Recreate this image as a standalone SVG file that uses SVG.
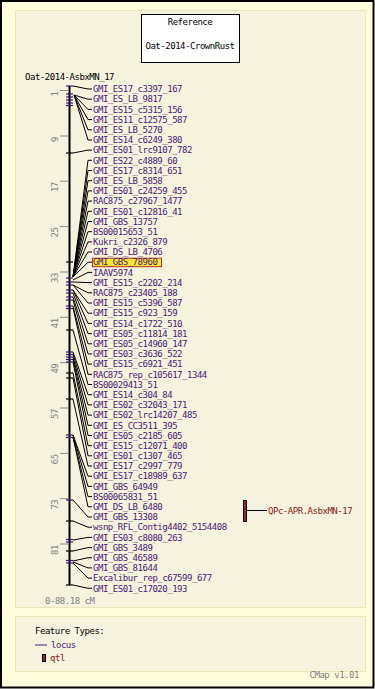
<svg xmlns="http://www.w3.org/2000/svg" width="375" height="689" viewBox="0 0 375 689">
<style>
text{font-family:"DejaVu Sans Mono","Liberation Mono",monospace;font-size:9px;letter-spacing:-0.47px}
.lbl{fill:#4a1a78}
.blk{fill:#000}
.gry{fill:#808080}
.qtxt{fill:#8b2020}
.con path{fill:none;stroke:#000;stroke-width:1}
.pt{stroke:#3c1470;stroke-width:1.2}
.bt{stroke:#000;stroke-width:1.2}
.st{stroke:#888;stroke-width:1}
</style>
<rect x="1" y="1" width="372.5" height="686.5" fill="#fffcdc" stroke="#000" stroke-width="2"/>
<rect x="15.5" y="10.5" width="350" height="597" fill="#f5f3dd" stroke="#ece6b4"/>
<rect x="15.5" y="616.5" width="350" height="55" fill="#f5f3dd" stroke="#ece6b4"/>
<g id="reference">
<rect x="141.5" y="14.5" width="98" height="48" fill="#fff" stroke="#000"/>
<text class="blk" x="190" y="25.3" text-anchor="middle">Reference</text>
<text class="blk" x="190" y="49" text-anchor="middle">Oat-2014-CrownRust</text>
</g>
<g id="map">
<text class="blk" x="25" y="80">Oat-2014-AsbxMN_17</text>
<line x1="69.5" y1="86" x2="69.5" y2="585" stroke="#000" stroke-width="2"/>
<g class="scale">
<line class="st" x1="60" y1="90.5" x2="69" y2="90.5"/>
<line class="st" x1="60" y1="136" x2="69" y2="136"/>
<line class="st" x1="60" y1="181.2" x2="69" y2="181.2"/>
<line class="st" x1="60" y1="226.6" x2="69" y2="226.6"/>
<line class="st" x1="60" y1="272" x2="69" y2="272"/>
<line class="st" x1="60" y1="317.3" x2="69" y2="317.3"/>
<line class="st" x1="60" y1="362.7" x2="69" y2="362.7"/>
<line class="st" x1="60" y1="408" x2="69" y2="408"/>
<line class="st" x1="60" y1="453.4" x2="69" y2="453.4"/>
<line class="st" x1="60" y1="498.7" x2="69" y2="498.7"/>
<line class="st" x1="60" y1="544" x2="69" y2="544"/>
<text class="gry" text-anchor="end" transform="translate(58,91.5) rotate(-90)">1</text>
<text class="gry" text-anchor="end" transform="translate(58,137) rotate(-90)">9</text>
<text class="gry" text-anchor="end" transform="translate(58,182.2) rotate(-90)">17</text>
<text class="gry" text-anchor="end" transform="translate(58,227.6) rotate(-90)">25</text>
<text class="gry" text-anchor="end" transform="translate(58,273) rotate(-90)">33</text>
<text class="gry" text-anchor="end" transform="translate(58,318.3) rotate(-90)">41</text>
<text class="gry" text-anchor="end" transform="translate(58,363.7) rotate(-90)">49</text>
<text class="gry" text-anchor="end" transform="translate(58,409) rotate(-90)">57</text>
<text class="gry" text-anchor="end" transform="translate(58,454.4) rotate(-90)">65</text>
<text class="gry" text-anchor="end" transform="translate(58,499.7) rotate(-90)">73</text>
<text class="gry" text-anchor="end" transform="translate(58,545) rotate(-90)">81</text>
</g>
<g class="ticks">
<line class="pt" x1="66" y1="86" x2="73" y2="86"/>
<line class="pt" x1="66" y1="94" x2="73" y2="94"/>
<line class="pt" x1="66" y1="97" x2="73" y2="97"/>
<line class="pt" x1="66" y1="100" x2="73" y2="100"/>
<line class="pt" x1="66" y1="103" x2="73" y2="103"/>
<line class="pt" x1="66" y1="105.5" x2="73" y2="105.5"/>
<line class="bt" x1="66" y1="153" x2="73" y2="153"/>
<line class="bt" x1="66" y1="262" x2="73" y2="262"/>
<line class="pt" x1="66" y1="278" x2="73" y2="278"/>
<line class="pt" x1="66" y1="282" x2="73" y2="282"/>
<line class="pt" x1="66" y1="285" x2="73" y2="285"/>
<line class="pt" x1="66" y1="290" x2="73" y2="290"/>
<line class="pt" x1="66" y1="293" x2="73" y2="293"/>
<line class="pt" x1="66" y1="297" x2="73" y2="297"/>
<line class="pt" x1="66" y1="300" x2="73" y2="300"/>
<line class="pt" x1="66" y1="306" x2="73" y2="306"/>
<line class="pt" x1="66" y1="308.5" x2="73" y2="308.5"/>
<line class="bt" x1="66" y1="330" x2="73" y2="330"/>
<line class="pt" x1="66" y1="352" x2="73" y2="352"/>
<line class="pt" x1="66" y1="354.5" x2="73" y2="354.5"/>
<line class="pt" x1="66" y1="357" x2="73" y2="357"/>
<line class="pt" x1="66" y1="359.5" x2="73" y2="359.5"/>
<line class="pt" x1="66" y1="362" x2="73" y2="362"/>
<line class="bt" x1="66" y1="373" x2="73" y2="373"/>
<line class="bt" x1="66" y1="378" x2="73" y2="378"/>
<line class="bt" x1="66" y1="399" x2="73" y2="399"/>
<line class="pt" x1="66" y1="435" x2="73" y2="435"/>
<line class="pt" x1="66" y1="437.5" x2="73" y2="437.5"/>
<line class="pt" x1="66" y1="500" x2="73" y2="500"/>
<line class="bt" x1="66" y1="521" x2="73" y2="521"/>
<line class="pt" x1="66" y1="539.5" x2="73" y2="539.5"/>
<line class="pt" x1="66" y1="542" x2="73" y2="542"/>
<line class="bt" x1="66" y1="551" x2="73" y2="551"/>
<line class="pt" x1="66" y1="560.5" x2="73" y2="560.5"/>
<line class="pt" x1="66" y1="563" x2="73" y2="563"/>
<line class="bt" x1="66" y1="585" x2="73" y2="585"/>
</g>
<text class="gry" x="45" y="604">0-88.18 cM</text>
</g>
<g id="connectors" class="con">
<path d="M73,86 L88,89 L92,89"/>
<path d="M74,95 L88,99.2 L92,99.2"/>
<path d="M74,95 L88,109.4 L92,109.4"/>
<path d="M74,95 L88,119.6 L92,119.6"/>
<path d="M74,95 L88,129.8 L92,129.8"/>
<path d="M74,95 L88,140 L92,140"/>
<path d="M73,153 L88,150.1 L92,150.1"/>
<path d="M73,277 L88,160.3 L92,160.3"/>
<path d="M73,277 L88,170.5 L92,170.5"/>
<path d="M73,277 L88,180.7 L92,180.7"/>
<path d="M73,277 L88,190.9 L92,190.9"/>
<path d="M73,277 L88,201.1 L92,201.1"/>
<path d="M73,277 L88,211.3 L92,211.3"/>
<path d="M73,277 L88,221.5 L92,221.5"/>
<path d="M73,277 L88,231.7 L92,231.7"/>
<path d="M73,277 L88,241.9 L92,241.9"/>
<path d="M73,277 L88,252 L92,252"/>
<path d="M73,277 L88,262.2 L92,262.2"/>
<path d="M73,280 L88,272.4 L92,272.4"/>
<path d="M73,282 L88,282.6 L92,282.6"/>
<path d="M73,285 L88,292.8 L92,292.8"/>
<path d="M73,285 L88,303 L92,303"/>
<path d="M73,290 L88,313.2 L92,313.2"/>
<path d="M73,290 L88,323.4 L92,323.4"/>
<path d="M73,293 L88,333.6 L92,333.6"/>
<path d="M73,297 L88,343.8 L92,343.8"/>
<path d="M73,300 L88,353.9 L92,353.9"/>
<path d="M73,306 L88,364.1 L92,364.1"/>
<path d="M73,308 L88,374.3 L92,374.3"/>
<path d="M73,330 L88,384.5 L92,384.5"/>
<path d="M73,352 L88,394.7 L92,394.7"/>
<path d="M73,354 L88,404.9 L92,404.9"/>
<path d="M73,357 L88,415.1 L92,415.1"/>
<path d="M73,359 L88,425.3 L92,425.3"/>
<path d="M73,362 L88,435.5 L92,435.5"/>
<path d="M73,373 L88,445.7 L92,445.7"/>
<path d="M73,378 L88,455.8 L92,455.8"/>
<path d="M73,399 L88,466 L92,466"/>
<path d="M73,435 L88,476.2 L92,476.2"/>
<path d="M73,435 L88,486.4 L92,486.4"/>
<path d="M73,437 L88,496.6 L92,496.6"/>
<path d="M73,437 L88,506.8 L92,506.8"/>
<path d="M73,500 L88,517 L92,517"/>
<path d="M73,521 L88,527.2 L92,527.2"/>
<path d="M73,540 L88,537.4 L92,537.4"/>
<path d="M73,551 L88,547.6 L92,547.6"/>
<path d="M73,561 L88,557.7 L92,557.7"/>
<path d="M73,562 L88,567.9 L92,567.9"/>
<path d="M73,563 L88,578.1 L92,578.1"/>
<path d="M73,585 L88,588.3 L92,588.3"/>
<path d="M247,510.5 L267,510.5"/>
</g>
<g id="labels">
<g id="n1"><text class="lbl" x="93" y="92.2">GMI_ES17_c3397_167</text></g>
<g id="n2"><text class="lbl" x="93" y="102.4">GMI_ES_LB_9817</text></g>
<g id="n3"><text class="lbl" x="93" y="112.6">GMI_ES15_c5315_156</text></g>
<g id="n4"><text class="lbl" x="93" y="122.8">GMI_ES11_c12575_587</text></g>
<g id="n5"><text class="lbl" x="93" y="133">GMI_ES_LB_5270</text></g>
<g id="n6"><text class="lbl" x="93" y="143.2">GMI_ES14_c6249_380</text></g>
<g id="n7"><text class="lbl" x="93" y="153.3">GMI_ES01_lrc9107_782</text></g>
<g id="n8"><text class="lbl" x="93" y="163.5">GMI_ES22_c4889_60</text></g>
<g id="n9"><text class="lbl" x="93" y="173.7">GMI_ES17_c8314_651</text></g>
<g id="n10"><text class="lbl" x="93" y="183.9">GMI_ES_LB_5858</text></g>
<g id="n11"><text class="lbl" x="93" y="194.1">GMI_ES01_c24259_455</text></g>
<g id="n12"><text class="lbl" x="93" y="204.3">RAC875_c27967_1477</text></g>
<g id="n13"><text class="lbl" x="93" y="214.5">GMI_ES01_c12816_41</text></g>
<g id="n14"><text class="lbl" x="93" y="224.7">GMI_GBS_13757</text></g>
<g id="n15"><text class="lbl" x="93" y="234.9">BS00015653_51</text></g>
<g id="n16"><text class="lbl" x="93" y="245.1">Kukri_c2326_879</text></g>
<g id="n17"><text class="lbl" x="93" y="255.2">GMI_DS_LB_4706</text></g>
<g id="n18"><rect x="92.5" y="258.2" width="69" height="8.5" fill="#ffe438" stroke="#c0301c"/><text class="lbl" x="93" y="265.4">GMI_GBS_78960</text></g>
<g id="n19"><text class="lbl" x="93" y="275.6">IAAV5974</text></g>
<g id="n20"><text class="lbl" x="93" y="285.8">GMI_ES15_c2202_214</text></g>
<g id="n21"><text class="lbl" x="93" y="296">RAC875_c23405_188</text></g>
<g id="n22"><text class="lbl" x="93" y="306.2">GMI_ES15_c5396_587</text></g>
<g id="n23"><text class="lbl" x="93" y="316.4">GMI_ES15_c923_159</text></g>
<g id="n24"><text class="lbl" x="93" y="326.6">GMI_ES14_c1722_510</text></g>
<g id="n25"><text class="lbl" x="93" y="336.8">GMI_ES05_c11814_181</text></g>
<g id="n26"><text class="lbl" x="93" y="347">GMI_ES05_c14960_147</text></g>
<g id="n27"><text class="lbl" x="93" y="357.1">GMI_ES03_c3636_522</text></g>
<g id="n28"><text class="lbl" x="93" y="367.3">GMI_ES15_c6921_451</text></g>
<g id="n29"><text class="lbl" x="93" y="377.5">RAC875_rep_c105617_1344</text></g>
<g id="n30"><text class="lbl" x="93" y="387.7">BS00029413_51</text></g>
<g id="n31"><text class="lbl" x="93" y="397.9">GMI_ES14_c304_84</text></g>
<g id="n32"><text class="lbl" x="93" y="408.1">GMI_ES02_c32043_171</text></g>
<g id="n33"><text class="lbl" x="93" y="418.3">GMI_ES02_lrc14207_485</text></g>
<g id="n34"><text class="lbl" x="93" y="428.5">GMI_ES_CC3511_395</text></g>
<g id="n35"><text class="lbl" x="93" y="438.7">GMI_ES05_c2185_605</text></g>
<g id="n36"><text class="lbl" x="93" y="448.9">GMI_ES15_c12071_400</text></g>
<g id="n37"><text class="lbl" x="93" y="459">GMI_ES01_c1307_465</text></g>
<g id="n38"><text class="lbl" x="93" y="469.2">GMI_ES17_c2997_779</text></g>
<g id="n39"><text class="lbl" x="93" y="479.4">GMI_ES17_c18989_637</text></g>
<g id="n40"><text class="lbl" x="93" y="489.6">GMI_GBS_64949</text></g>
<g id="n41"><text class="lbl" x="93" y="499.8">BS00065831_51</text></g>
<g id="n42"><text class="lbl" x="93" y="510">GMI_DS_LB_6480</text></g>
<g id="n43"><text class="lbl" x="93" y="520.2">GMI_GBS_13308</text></g>
<g id="n44"><text class="lbl" x="93" y="530.4">wsnp_RFL_Contig4402_5154408</text></g>
<g id="n45"><text class="lbl" x="93" y="540.6">GMI_ES03_c8080_263</text></g>
<g id="n46"><text class="lbl" x="93" y="550.8">GMI_GBS_3489</text></g>
<g id="n47"><text class="lbl" x="93" y="560.9">GMI_GBS_46589</text></g>
<g id="n48"><text class="lbl" x="93" y="571.1">GMI_GBS_81644</text></g>
<g id="n49"><text class="lbl" x="93" y="581.3">Excalibur_rep_c67599_677</text></g>
<g id="n50"><text class="lbl" x="93" y="591.5">GMI_ES01_c17020_193</text></g>
</g>
<g id="qtl">
<rect x="243.5" y="500.5" width="3" height="21" fill="#a02030" stroke="#000"/>
<text class="qtxt" x="268" y="513.7">QPc-APR.AsbxMN-17</text>
</g>
<g id="legend">
<text class="blk" x="35" y="634">Feature Types:</text>
<line x1="35" y1="645" x2="47" y2="645" stroke="#4a1a78"/>
<text class="lbl" x="51" y="648">locus</text>
<rect x="42.5" y="654.5" width="3" height="7" fill="#a02030" stroke="#000"/>
<text class="qtxt" x="50" y="661">qtl</text>
<text class="gry" x="359" y="678" text-anchor="end">CMap v1.01</text>
</g>
</svg>
